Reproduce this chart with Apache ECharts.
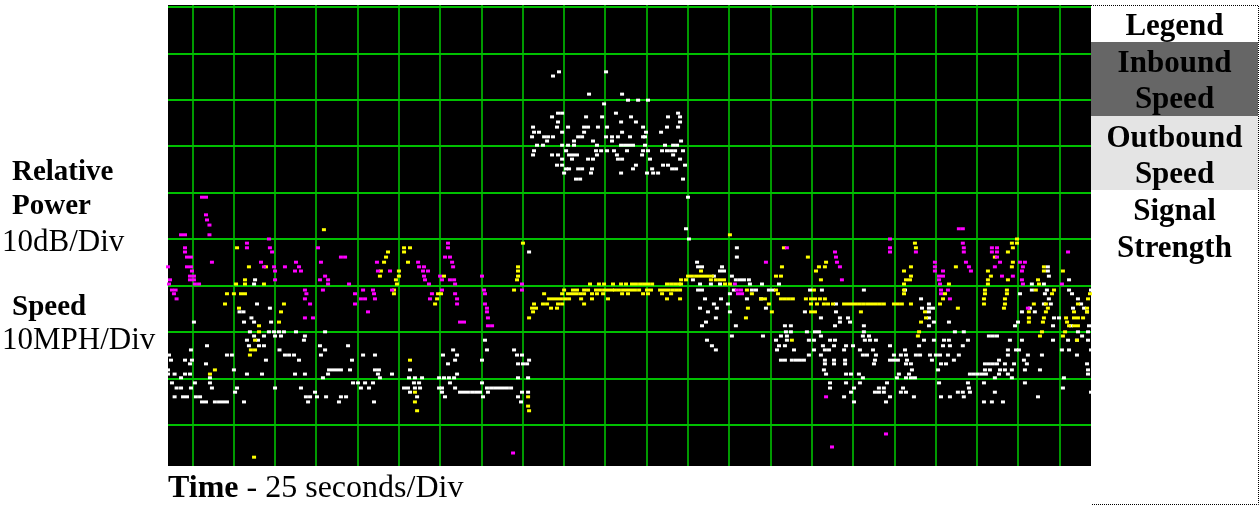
<!DOCTYPE html>
<html>
<head>
<meta charset="utf-8">
<script src="https://cdn.jsdelivr.net/npm/echarts@6/dist/echarts.min.js"></script>
<style>
html,body{margin:0;padding:0;background:#fff;}
#chart{width:1259px;height:506px;}
</style>
</head>
<body>
<div id="chart"></div>
<script>
// Time axis: seconds (25 s per division). Level axis: 10 units (dB / MPH) per division.
var timeRange = [-14.7, 544.1];
var levelRange = [-8.9, 90.4];
var timeDiv = 25;
var levelDiv = 10;

// Each row: [level, [time, time, ...]]
var signalStrengthRows = [
[76.0,[222.0,250.5]],
[75.1,[218.4]],
[71.2,[240.2,260.2]],
[69.9,[263.8,269.9,275.9]],
[69.1,[249.3]],
[67.1,[221.4,223.9,256.5,294.1]],
[66.3,[217.8,238.4,248.1,265.6,288.0,295.3]],
[65.2,[221.4,259.6,268.6,295.3]],
[64.1,[206.3,220.8,227.5,237.2,239.6,245.6,251.1,272.9,287.4,294.1]],
[63.0,[206.9,209.9,223.9,237.2,260.2,274.7,283.8]],
[62.0,[205.7,213.0,215.4,218.4,233.6,236.0,250.5,254.1,257.7,265.0,272.9,274.1]],
[61.1,[214.8,231.1,242.6,254.1,295.9]],
[60.2,[208.7,212.3,223.9,227.5,231.1,245.0,259.6,262.0,264.4,266.8,274.1,286.2,291.1,293.5]],
[59.0,[206.9,226.3,244.4,247.5,251.1,255.3,263.2,272.9,275.9,284.4,287.4,289.9,292.3,297.1]],
[58.1,[206.3,217.8,221.4,228.1,230.5,232.9,245.0,257.1,272.3,291.1]],
[57.2,[223.9,229.9,239.6,242.6,257.7,260.2,277.1,295.3]],
[55.9,[220.8,223.9,268.6,285.0,288.0,298.3]],
[55.1,[226.3,228.1,233.6,236.0,242.0,266.8,278.4,290.5,292.9]],
[54.2,[225.1,241.4,259.6,275.3,279.0,282.0]],
[52.9,[232.3,234.8,297.1]],
[49.0,[300.1]],
[42.2,[298.9]],
[40.0,[300.7]],
[38.1,[329.7]],
[37.2,[203.9]],
[36.1,[329.7]],
[35.0,[305.6]],
[34.0,[306.2,308.6,320.7,518.0]],
[33.1,[319.5,321.9,518.0]],
[32.0,[315.8,326.7,518.6]],
[31.2,[38.0,303.1,329.1,331.6,334.0,337.0,530.8]],
[30.3,[37.4,307.4,314.0,319.5,337.6,344.9,355.2,508.3,515.6]],
[29.0,[306.2,308.6,327.9,338.8,341.3,349.1,351.6,374.0,381.2,406.6,431.5,508.3,517.4,530.8,544.1]],
[28.2,[325.5,501.1,516.2,532.6]],
[27.1,[310.4,320.1,335.8,344.3,441.2,518.6,536.2]],
[26.0,[39.2,315.8,324.3,389.7,446.0,515.6,519.8,538.1]],
[25.1,[47.0,307.4,317.6,347.3,441.8,446.0,448.4,507.1,533.2,539.9]],
[24.3,[28.6,31.0,312.2,325.5,370.9,389.7,446.0,502.3,510.1,541.7]],
[23.0,[35.8,317.0,380.6,392.1,397.0,446.0,521.7,524.7]],
[22.1,[1.0,31.3,37.4,47.7,311.0,392.1,398.2,449.0,458.1,499.9]],
[21.3,[308.6,329.1,358.8,362.4,389.1,406.6,446.0,498.1,521.1,532.0,542.9]],
[20.0,[34.9,46.4,49.5,52.5,55.5,62.8,80.4,359.4,362.4,372.1,377.0,379.4,406.6,461.7,467.1,536.2,542.3]],
[19.1,[37.4,43.4,50.1,53.7,68.2,326.7,345.5,356.4,360.0,380.6,406.0,409.7,482.3,484.7,487.2,538.7]],
[18.2,[33.1,39.8,67.6,177.2,311.6,353.4,360.0,373.3,376.4,386.1,389.1,407.2,410.3,413.9,443.0,449.0,455.1,458.1,469.6,495.0,502.3,521.1,530.2,535.6,542.3]],
[17.0,[8.9,34.3,40.4,43.4,77.3,94.3,314.6,355.2,358.8,381.8,388.5,395.8,400.0,422.4,440.0,454.5,458.7,466.5]],
[16.1,[-0.8,52.8,80.4,157.9,178.4,194.8,317.0,354.0,364.3,376.4,383.0,385.5,394.6,404.2,412.1,431.5,493.8,498.7,500.5,526.5,530.8,544.1]],
[15.0,[-14.1,21.0,24.0,56.1,58.6,61.6,77.9,103.4,110.6,151.8,160.3,196.6,199.6,373.3,380.6,406.0,408.5,413.9,424.8,429.0,432.1,438.1,440.6,446.6,450.2,452.7,457.5,464.1,493.8,505.9,514.4,535.6]],
[13.9,[-12.9,-4.4,-0.2,44.6,64.6,96.7,159.1,175.4,203.9,356.4,358.8,363.0,365.5,367.9,370.3,383.0,388.5,395.2,413.3,422.4,424.8,427.2,432.7,447.8,461.1,488.4,503.5]],
[13.1,[-1.4,8.3,154.8,197.2,200.2,202.7,383.0,388.5,395.2,412.7,432.1,435.1,453.3,456.3,479.9,482.3,484.7,487.2,492.0,497.5,505.3,541.7]],
[11.8,[-14.7,25.2,82.8,85.2,87.6,90.0,95.5,110.6,113.0,131.8,382.4,435.7,451.5,479.9,482.9,489.0,492.0,496.2,504.1,513.2,542.3]],
[10.9,[-14.7,-10.7,-4.4,-1.4,33.1,42.2,62.2,68.2,82.2,112.4,120.9,160.3,383.7,395.8,398.8,403.6,427.8,433.9,470.8,473.2,475.6,478.1,480.5,488.4,493.8,542.3]],
[10.1,[-6.8,10.7,79.1,113.6,131.2,134.8,139.1,149.4,152.4,155.4,158.5,197.2,203.3,406.0,426.6,432.1,435.1,437.5,485.9,496.2,527.7]],
[9.0,[-12.3,1.6,10.7,97.3,100.3,104.6,109.4,134.2,137.3,156.0,175.4,386.1,395.8,404.2,420.6,452.1,469.6,479.3,504.1]],
[7.9,[-9.5,-6.8,-0.8,11.9,27.1,50.1,65.8,102.1,107.0,128.2,130.6,134.8,137.9,149.4,151.2,159.1,178.4,180.9,183.3,185.7,188.1,190.5,193.0,386.1,400.6,415.7,418.7,430.3,470.2,527.1]],
[7.0,[25.9,74.3,131.8,151.2,162.1,164.5,166.9,169.4,171.8,174.2,179.0,199.6,203.3,398.8,413.3,415.7,418.7,429.0,432.1,463.5,466.5,470.8,485.9,544.1]],
[6.0,[-10.7,-5.6,-3.2,2.2,4.7,68.8,71.3,75.5,81.0,90.0,93.1,136.1,153.0,176.0,197.2,394.6,422.4,436.9,453.3,458.7,467.1,512.0]],
[4.9,[5.9,8.3,13.7,16.2,18.6,21.0,31.3,70.1,88.8,110.0,199.0,400.6,420.0,479.3,484.1,490.8]]
];

var inboundSpeedRows = [
[42.0,[79.7]],
[40.9,[325.5]],
[40.0,[499.3]],
[39.1,[200.2,437.5,496.2,499.3]],
[38.1,[27.1,128.2,131.8,358.2,438.1,496.8]],
[37.2,[118.5,128.2,493.8]],
[36.1,[117.3,372.7,485.9]],
[35.0,[116.1,130.6,383.7,496.8]],
[34.0,[34.3,44.6,197.2,357.0,379.4,383.0,435.1,462.3,496.2,515.6]],
[33.1,[114.2,125.1,197.2,308.0,377.6,430.9,481.7,515.6,527.1]],
[32.0,[113.6,125.1,152.4,197.2,300.1,302.5,305.0,307.4,309.8,312.2,314.6,353.4,356.4,435.1,483.5]],
[31.2,[31.9,123.3,196.6,295.9,298.9,314.0,317.0,319.5,321.9,380.6,432.1,434.5,481.7,493.8,512.0]],
[30.3,[26.5,31.9,43.4,123.9,240.8,246.2,249.3,254.7,259.6,262.6,266.2,268.6,271.1,273.5,275.9,278.4,287.4,289.9,292.3,294.7,295.9,322.5,325.5,430.9,458.1,481.7,512.6]],
[29.0,[122.1,194.8,225.1,230.5,232.9,237.2,239.6,244.4,246.8,249.3,251.7,254.1,255.9,258.3,260.8,263.2,265.6,268.0,270.5,275.3,277.7,283.2,285.6,288.0,290.5,292.9,295.3,335.8,353.4,376.4,430.9,479.9,493.2,510.7,521.7]],
[28.2,[21.0,25.2,29.5,31.9,122.1,148.8,150.6,213.0,223.9,227.5,229.9,232.3,234.8,237.2,242.0,245.0,248.7,260.2,263.8,272.9,275.9,284.4,289.9,338.8,354.6,430.9,455.7,479.9,493.2,520.5,543.5]],
[27.1,[148.2,216.0,218.4,220.8,223.2,225.7,228.1,235.4,242.0,251.7,287.4,295.3,344.3,346.7,356.4,358.8,361.2,363.6,371.5,374.6,377.0,380.0,383.0,454.5,479.3,492.0,542.3]],
[26.0,[19.8,55.5,147.0,206.9,212.3,214.8,221.4,223.9,237.2,349.1,374.6,378.2,382.4,384.9,387.9,394.6,397.0,399.4,401.8,404.2,406.6,409.1,411.5,413.9,416.3,418.7,424.8,427.2,429.6,435.1,452.7,479.3,492.0,509.5,516.8,536.2]],
[25.1,[28.3,205.7,208.1,217.2,220.8,336.4,463.5,491.4,518.0,541.7]],
[24.3,[53.7,206.3,350.9,374.6,377.0,404.8,443.6,506.5,516.8,533.8,541.7]],
[23.0,[203.9,335.2,444.2,506.5,515.6,529.0,533.8,536.2,539.3]],
[22.1,[52.5,441.2,506.5,515.0,529.6]],
[21.3,[40.4,530.8,533.8,536.2]],
[20.0,[40.4,440.0,514.4,528.4]],
[19.1,[439.3,513.2,527.1]],
[18.2,[38.0,363.0,535.6]],
[16.1,[35.5,38.0]],
[15.0,[34.9]],
[13.9,[131.8]],
[11.8,[13.7]],
[10.9,[10.7]],
[7.0,[134.8]],
[6.0,[203.3]],
[4.9,[134.8]],
[4.0,[203.3]],
[3.0,[136.1,203.9]],
[-7.0,[37.4]]
];

var outboundSpeedRows = [
[49.0,[5.9,8.3]],
[45.2,[8.3]],
[44.1,[8.9]],
[43.0,[10.4]],
[42.2,[464.1,466.5]],
[40.9,[-6.8,-4.4,10.4]],
[40.0,[46.4,422.4]],
[39.1,[33.1,154.8,466.5]],
[38.1,[-4.4,33.1,47.0,76.1,154.8,360.0,422.4,467.1,484.1,487.2]],
[37.2,[-4.4,48.3,389.1,422.4,438.1,467.1,484.1,487.2,530.2]],
[36.1,[-3.2,-0.8,90.0,92.5,153.0,156.0,389.7,487.2]],
[35.0,[11.9,41.6,62.8,77.9,111.8,136.7,157.3,347.3,390.3,449.6,468.4,489.0,501.1,504.1]],
[34.0,[-14.7,-3.2,-0.8,43.4,49.5,56.1,64.6,137.3,140.3,157.9,392.1,449.6,470.2,485.9,502.9]],
[33.1,[-0.2,50.1,62.2,65.8,112.4,119.7,139.7,142.7,449.6,454.5,471.4,502.3]],
[32.0,[-1.4,1.0,80.4,140.3,150.0,175.4,452.1,454.5,490.2,496.8]],
[31.2,[-13.5,-1.4,1.0,50.1,77.3,82.2,140.9,151.2,156.0,158.5,393.3,452.1,502.3]],
[30.3,[-14.1,1.6,4.1,82.2,94.9,143.3,159.1,199.6,328.5,452.7,502.9,526.5]],
[29.0,[-12.3,-10.1,68.2,79.1,103.4,109.4,120.9,151.2,176.6,199.6,329.7,332.2,453.3,457.5]],
[28.2,[-11.1,69.1,98.5,110.0,145.1,159.1,177.2,330.4,332.8,453.3]],
[27.1,[-9.5,68.2,102.1,104.6,110.6,143.9,160.3,458.7]],
[26.0,[71.3,98.5,160.3,177.2]],
[25.1,[178.4,505.9]],
[24.3,[106.4,178.4]],
[23.0,[68.2,73.1,179.0]],
[22.1,[162.1,164.5]],
[21.3,[179.0,181.5]],
[6.0,[383.7]],
[-2.0,[420.0]],
[-4.8,[387.3]],
[-6.1,[194.2]]
];

var legendRows = ['Legend', 'Inbound\nSpeed', 'Outbound\nSpeed', 'Signal\nStrength'];
var seriesNames = ['Signal Strength', 'Inbound Speed', 'Outbound Speed'];

function toPoints(rows) {
  var out = [];
  rows.forEach(function (r) {
    r[1].forEach(function (t) { out.push([t, r[0]]); });
  });
  return out;
}

var SERIF = '"Liberation Serif", "Times New Roman", serif';
var GREEN = '#00c000';

var chart = echarts.init(document.getElementById('chart'), null, {renderer: 'canvas'});

function scatter(name, rows, color) {
  return {
    name: name,
    type: 'scatter',
    data: toPoints(rows),
    symbol: 'rect',
    symbolSize: [4, 3],
    itemStyle: {color: color, opacity: 1},
    silent: true,
    clip: true,
    emphasis: {disabled: true}
  };
}

var graphics = [];
function txt(x, y, text, size, bold, align) {
  graphics.push({
    type: 'text', x: x, y: y, silent: true,
    style: {
      text: text, fill: '#000',
      font: (bold ? 'bold ' : '') + size + 'px ' + SERIF,
      align: align || 'left', verticalAlign: 'middle'
    }
  });
}

// legend panel backgrounds
graphics.push({type: 'rect', silent: true, shape: {x: 1091, y: 42, width: 167, height: 74}, style: {fill: '#666666'}});
graphics.push({type: 'rect', silent: true, shape: {x: 1091, y: 116, width: 167, height: 74}, style: {fill: '#e4e4e4'}});
graphics.push({type: 'polyline', silent: true,
  shape: {points: [[1091, 5.5], [1258.5, 5.5], [1258.5, 504.5], [1091, 504.5]]},
  style: {stroke: '#000', lineWidth: 1, lineDash: [1, 1], fill: null}});

var legendLines = [];
legendRows.forEach(function (s) { s.split('\n').forEach(function (l) { legendLines.push(l); }); });
var legendY = [27, 64, 100, 139, 175, 212, 249];
legendLines.forEach(function (l, i) { txt(1174.5, legendY[i], l, 31, true, 'center'); });

// left labels
txt(12, 173, 'Relative', 29, true);
txt(12, 207, 'Power', 29, true);
txt(2, 243, '10dB/Div', 31, false);
txt(12, 308, 'Speed', 29, true);
txt(2, 341, '10MPH/Div', 31, false);

// bottom title
graphics.push({
  type: 'text', x: 168, y: 489, silent: true,
  style: {
    text: '{b|Time} - ' + timeDiv + ' seconds/Div',
    fill: '#000', font: '32px ' + SERIF, verticalAlign: 'middle',
    rich: {b: {fontWeight: 'bold', fontSize: 32, fontFamily: SERIF, fill: '#000'}}
  }
});

chart.setOption({
  animation: false,
  backgroundColor: '#ffffff',
  grid: {
    left: 168, top: 5, width: 923, height: 461,
    show: true, backgroundColor: '#000000', borderWidth: 0,
    containLabel: false, outerBoundsMode: 'none'
  },
  xAxis: {
    type: 'value', min: timeRange[0], max: timeRange[1],
    splitNumber: 22, minInterval: timeDiv, maxInterval: timeDiv,
    axisLine: {show: false}, axisTick: {show: false}, axisLabel: {show: false},
    splitLine: {show: true, showMinLine: false, showMaxLine: false, lineStyle: {color: GREEN, width: 1.6}}
  },
  yAxis: {
    type: 'value', min: levelRange[0], max: levelRange[1],
    splitNumber: 10, minInterval: levelDiv, maxInterval: levelDiv,
    axisLine: {show: false}, axisTick: {show: false}, axisLabel: {show: false},
    splitLine: {show: true, showMinLine: false, showMaxLine: false, lineStyle: {color: GREEN, width: 2}}
  },
  tooltip: {show: false},
  series: [
    scatter(seriesNames[0], signalStrengthRows, '#ffffff'),
    scatter(seriesNames[1], inboundSpeedRows, '#ffff00'),
    scatter(seriesNames[2], outboundSpeedRows, '#ff00ff')
  ],
  graphic: {elements: graphics}
});
</script>
</body>
</html>
